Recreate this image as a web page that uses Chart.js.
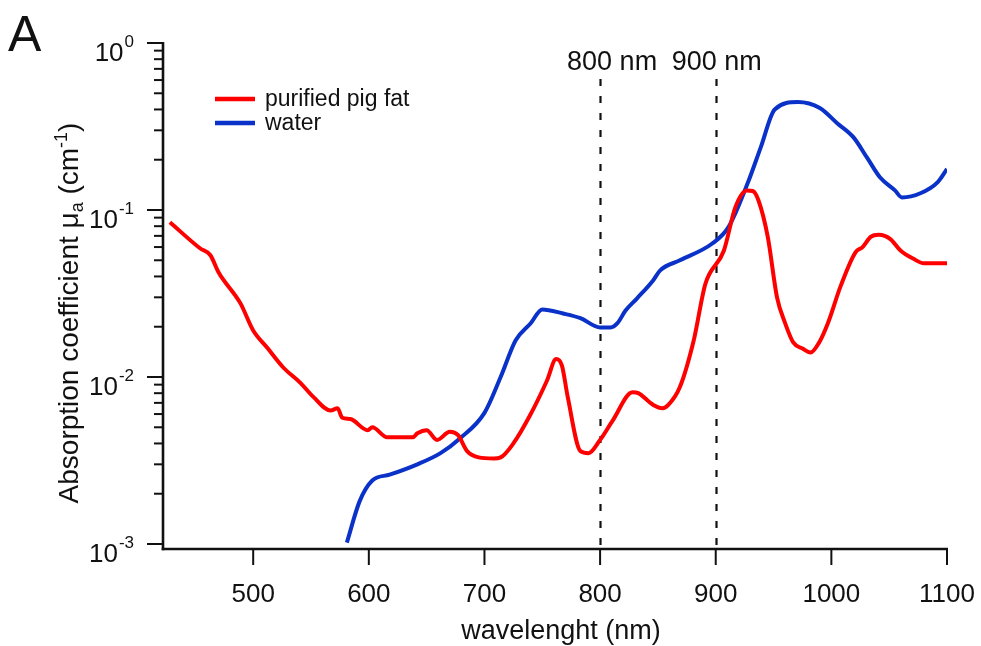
<!DOCTYPE html>
<html><head><meta charset="utf-8">
<script src="https://cdn.jsdelivr.net/npm/chart.js@4/dist/chart.umd.min.js"></script>
<style>html,body{margin:0;padding:0;background:#fff}canvas{display:block}</style>
</head><body>
<canvas id="c" width="981" height="646"></canvas>
<script>
// ---- data ----
const fatWavelength = [428,454,463,470,489,500,512,526,541,552,567,573,577,584,599,603,616,638,642,650,659,670,677,685,695,708,714,725,740,754,762,767,772,783,790,800,811,828,833,846,854,859,869,881,891,907,917,927,932,937,945,953,960,967,975,982,989,997,1008,1021,1027,1034,1041,1051,1060,1071,1080,1100];
const fatValues = [0.0845,0.059,0.0536,0.0424,0.0276,0.019,0.0150,0.0114,0.0092,0.0076,0.0063,0.0065,0.0057,0.0056,0.0048,0.0050,0.00435,0.00435,0.0046,0.0048,0.0042,0.0047,0.0045,0.0036,0.0033,0.00325,0.0033,0.0040,0.0060,0.0095,0.0128,0.0117,0.0076,0.0036,0.0035,0.0042,0.0055,0.0081,0.0080,0.0068,0.0065,0.0068,0.0087,0.0166,0.036,0.057,0.104,0.131,0.130,0.114,0.069,0.030,0.021,0.0161,0.0148,0.0140,0.0159,0.021,0.035,0.056,0.060,0.069,0.071,0.067,0.057,0.051,0.048,0.048];
const waterWavelength = [581,592,603,618,642,662,679,700,714,727,740,750,768,783,800,809,815,822,832,846,852,869,897,911,928,939,951,971,990,1005,1019,1031,1042,1055,1061,1077,1092,1100];
const waterValues = [0.00102,0.0018,0.0024,0.0026,0.0030,0.0035,0.0043,0.0061,0.0100,0.0166,0.021,0.0254,0.024,0.0225,0.0198,0.0198,0.021,0.025,0.0296,0.038,0.0435,0.050,0.063,0.079,0.147,0.238,0.40,0.443,0.408,0.331,0.273,0.205,0.157,0.131,0.119,0.126,0.147,0.176];
const seriesNames = ['purified pig fat','water'];
const seriesColors = ['#ff0000','#0a32c8'];
const xTickValues = [500,600,700,800,900,1000,1100];
const yDecadeExponents = [-3,-2,-1,0];
const markerWavelengths = [800,900];
const markerLabels = ['800 nm','900 nm'];
const xTitle = 'wavelenght (nm)';
const panelLetter = 'A';

const FONT = '"Liberation Sans", Arial, Helvetica, sans-serif';

function toPoints(xs, ys){ return xs.map((x,i)=>({x:x, y:ys[i]})); }

const axesPlugin = {
  id: 'igorAxes',
  beforeDatasetsDraw(chart){
    const ctx = chart.ctx, xs = chart.scales.x, area = chart.chartArea;
    const yb = area.bottom + 5;
    ctx.save();
    ctx.strokeStyle = '#111';
    ctx.lineWidth = 2.2;
    ctx.setLineDash([7,10]);
    markerWavelengths.forEach(w=>{
      const px = Math.round(xs.getPixelForValue(w)) + 0.5;
      ctx.beginPath(); ctx.moveTo(px, 79); ctx.lineTo(px, yb); ctx.stroke();
    });
    ctx.restore();
  },
  afterDraw(chart){
    const ctx = chart.ctx, xs = chart.scales.x, ys = chart.scales.y, area = chart.chartArea;
    const x0 = area.left, yb = area.bottom + 5, xr = xs.getPixelForValue(xTickValues[xTickValues.length-1]);
    ctx.save();
    ctx.strokeStyle = '#111'; ctx.fillStyle = '#111';
    ctx.lineWidth = 2.6; ctx.lineCap = 'butt';
    // axis lines
    ctx.beginPath(); ctx.moveTo(x0, area.top - 1); ctx.lineTo(x0, yb + 1.3); ctx.stroke();
    ctx.beginPath(); ctx.moveTo(x0 - 1.3, yb); ctx.lineTo(xr + 1, yb); ctx.stroke();
    // y ticks
    ctx.lineWidth = 2;
    yDecadeExponents.forEach(d=>{
      const base = Math.pow(10,d);
      const py = ys.getPixelForValue(base);
      ctx.beginPath(); ctx.moveTo(x0 - 16, py); ctx.lineTo(x0, py); ctx.stroke();
      if (d < yDecadeExponents[yDecadeExponents.length-1]) {
        for (let k=2;k<=9;k++){
          const pm = ys.getPixelForValue(k*base);
          ctx.beginPath(); ctx.moveTo(x0 - 9, pm); ctx.lineTo(x0, pm); ctx.stroke();
        }
      }
      // label 10^d
      ctx.font = '17px ' + FONT;
      const sup = String(d);
      const sw = ctx.measureText(sup).width;
      ctx.textAlign = 'right'; ctx.textBaseline = 'alphabetic';
      ctx.fillText(sup, 134, py + 4);
      ctx.font = '26px ' + FONT;
      ctx.fillText('10', 134 - sw - 1, py + 18);
    });
    // x ticks
    xTickValues.forEach(v=>{
      const px = xs.getPixelForValue(v);
      ctx.beginPath(); ctx.moveTo(px, yb); ctx.lineTo(px, yb + 16); ctx.stroke();
      ctx.font = '26px ' + FONT; ctx.textAlign = 'center'; ctx.textBaseline = 'alphabetic';
      ctx.fillText(String(v), px, yb + 53);
    });
    // x title
    ctx.font = '27px ' + FONT; ctx.textAlign = 'center';
    ctx.fillText(xTitle, (x0 + xr)/2 + 6, 639);
    // y title (rotated, with sub/superscript)
    ctx.save();
    ctx.translate(78, 313); ctx.rotate(-Math.PI/2);
    const parts = [
      {t:'Absorption coefficient \u03bc', f:28, dy:0},
      {t:'a', f:18, dy:5},
      {t:' (cm', f:28, dy:0},
      {t:'-1', f:18, dy:-11},
      {t:')', f:28, dy:0}
    ];
    let total = 0;
    parts.forEach(p=>{ ctx.font = p.f + 'px ' + FONT; p.w = ctx.measureText(p.t).width; total += p.w; });
    let cx = -total/2;
    ctx.textAlign = 'left';
    parts.forEach(p=>{ ctx.font = p.f + 'px ' + FONT; ctx.fillText(p.t, cx, p.dy); cx += p.w; });
    ctx.restore();
    // marker labels
    ctx.font = '27px ' + FONT; ctx.textAlign = 'center';
    const labelOffsets = [12, 1];
    markerWavelengths.forEach((w,i)=>{
      ctx.fillText(markerLabels[i], xs.getPixelForValue(w) + labelOffsets[i], 70);
    });
    // legend
    const legY = [99, 123];
    seriesNames.forEach((n,i)=>{
      ctx.strokeStyle = seriesColors[i]; ctx.lineWidth = 4.5;
      ctx.beginPath(); ctx.moveTo(215, legY[i]); ctx.lineTo(255, legY[i]); ctx.stroke();
      ctx.fillStyle = '#111'; ctx.font = '23px ' + FONT; ctx.textAlign = 'left'; ctx.textBaseline = 'middle';
      ctx.fillText(n, 265, legY[i] + 1);
    });
    // panel letter
    ctx.textBaseline = 'alphabetic'; ctx.textAlign = 'left';
    ctx.font = '50px ' + FONT;
    ctx.fillText(panelLetter, 8, 51);
    ctx.restore();
  }
};

new Chart(document.getElementById('c'), {
  type: 'line',
  data: {
    datasets: [
      {label: seriesNames[0], data: toPoints(fatWavelength, fatValues), borderColor: seriesColors[0], borderWidth: 4, pointRadius: 0, cubicInterpolationMode: 'monotone', fill: false},
      {label: seriesNames[1], data: toPoints(waterWavelength, waterValues), borderColor: seriesColors[1], borderWidth: 4, pointRadius: 0, cubicInterpolationMode: 'monotone', fill: false}
    ]
  },
  options: {
    responsive: false,
    animation: false,
    devicePixelRatio: 1,
    layout: {padding: {left: 163, right: 34, top: 43, bottom: 102}},
    scales: {
      x: {type: 'linear', min: 422, max: 1100, display: false},
      y: {type: 'logarithmic', min: 0.001, max: 1, display: false}
    },
    plugins: {legend: {display: false}, tooltip: {enabled: false}},
    events: []
  },
  plugins: [axesPlugin]
});
</script>
</body></html>
